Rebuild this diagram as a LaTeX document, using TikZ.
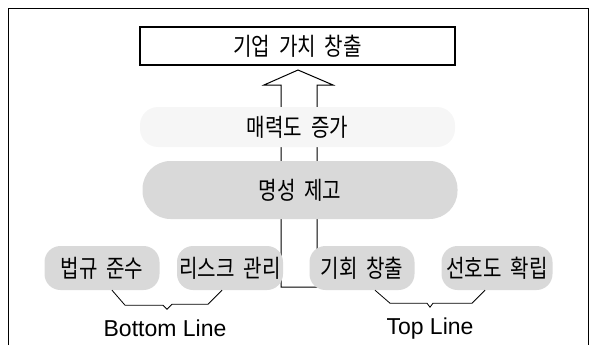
\documentclass[tikz,border=0pt]{standalone}
\usepackage{fontspec}
\setmainfont{Liberation Sans}
\newfontfamily\kr[FakeStretch=0.82,WordSpace=2]{Noto Sans CJK KR}
\usetikzlibrary{calc}
\begin{document}
\begin{tikzpicture}[x=1pt,y=-1pt,
  krtext/.style={font=\kr\fontsize{24.5}{28}\selectfont},
  blob/.style={krtext, fill=gray!30, rounded corners=16pt, inner sep=0pt},
  bigblob/.style={krtext, fill=gray!30, rounded corners=28pt, inner sep=0pt},
  faintblob/.style={krtext, fill=gray!7, rounded corners=18pt, inner sep=0pt},
  goalbox/.style={krtext, draw, line width=1.1pt, inner sep=0pt},
  brk/.style={line width=0.8pt},
  entext/.style={font=\fontsize{23}{27}\selectfont, inner sep=0pt}]
\useasboundingbox (0,0) rectangle (593,345);
% frame
\draw[line width=0.9pt] (8,345) -- (8,8) -- (588,8) -- (588,345);
% goal box
\node[goalbox, minimum width=315pt, minimum height=38pt] (goal) at (297.5,46) {기업 가치 창출};
% hollow block arrow
\coordinate (tip) at (298,70);
\draw[line width=1pt, fill=white] (281,287) -- (281,85) -- (264,85) -- (tip) -- (333,85) -- (317,85) -- (317,287) -- cycle;
% clouds
\node[faintblob, minimum width=315pt, minimum height=40pt] (attr) at (297.5,127) {매력도 증가};
\node[bigblob, minimum width=315pt, minimum height=58pt] (rep) at (300,190) {명성 제고};
\node[blob, minimum width=115pt, minimum height=44pt] (c1) at (102,268) {법규 준수};
\node[blob, minimum width=106pt, minimum height=44pt] (c2) at (230,268) {리스크 관리};
\node[blob, minimum width=105pt, minimum height=44pt] (c3) at (362,268) {기회 창출};
\node[blob, minimum width=111pt, minimum height=44pt] (c4) at (497,268) {선호도 확립};
% labels
\node[entext] (bl) at (165,328.5) {Bottom Line};
\node[entext] (tl) at (430,328.5) {Top Line};
% brackets
\draw[brk] ([xshift=10pt]c1.south) -- ++(13,15) -- ++(38,0) -- ++(4,4) -- ++(5,-5) -- ++(36,0) -- ([xshift=-8pt]c2.south);
\draw[brk] ([xshift=13pt]c3.south) -- ++(15,13) -- ++(37,0) -- ++(3,4) -- ++(3,-4) -- ++(39,0) -- ([xshift=-12pt]c4.south);
\end{tikzpicture}
\end{document}
